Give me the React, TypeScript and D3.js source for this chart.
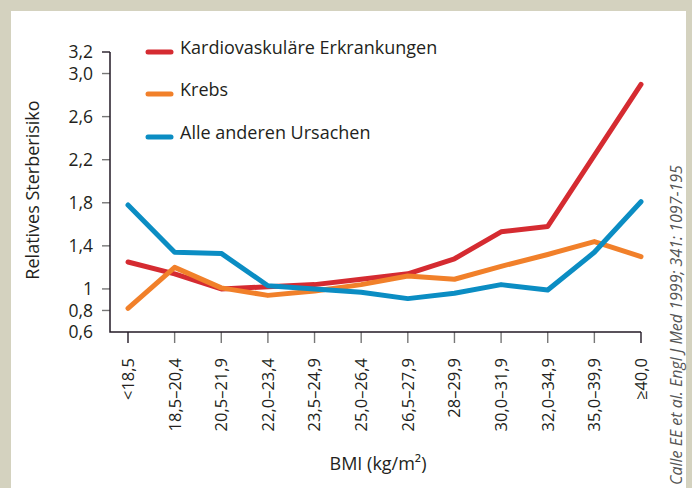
import React, { useEffect, useRef } from "react";
import * as d3 from "d3";

// Abmessungen
const WIDTH = 692;
const HEIGHT = 488;

// Daten
const categories: string[] = [
  "<18,5",
  "18,5–20,4",
  "20,5–21,9",
  "22,0–23,4",
  "23,5–24,9",
  "25,0–26,4",
  "26,5–27,9",
  "28–29,9",
  "30,0–31,9",
  "32,0–34,9",
  "35,0–39,9",
  "≥40,0",
];
const kardio: number[] = [1.25, 1.14, 1.0, 1.02, 1.04, 1.09, 1.14, 1.28, 1.53, 1.58, 2.24, 2.9];
const krebs: number[] = [0.82, 1.2, 1.01, 0.94, 0.98, 1.04, 1.12, 1.09, 1.21, 1.32, 1.44, 1.3];
const andere: number[] = [1.78, 1.34, 1.33, 1.03, 1.0, 0.97, 0.91, 0.96, 1.04, 0.99, 1.34, 1.81];

const seriesNames: string[] = ["Kardiovaskuläre Erkrankungen", "Krebs", "Alle anderen Ursachen"];
const seriesColors: string[] = ["#d52b31", "#f1802a", "#0b8dc3"];

const yTicks: number[] = [0.6, 0.8, 1, 1.4, 1.8, 2.2, 2.6, 3.0, 3.2];
const yTickLabels: string[] = ["0,6", "0,8", "1", "1,4", "1,8", "2,2", "2,6", "3,0", "3,2"];

const FONT = "'Open Sans', 'Noto Sans', sans-serif";

const App: React.FC = () => {
  const ref = useRef<SVGSVGElement | null>(null);

  useEffect(() => {
    if (!ref.current) return;
    const svg = d3.select(ref.current);
    svg.selectAll("*").remove();

    // Rahmen
    svg.append("rect").attr("width", WIDTH).attr("height", HEIGHT).attr("fill", "#d4d2bf");
    svg
      .append("rect")
      .attr("x", 11)
      .attr("y", 11)
      .attr("width", 675)
      .attr("height", HEIGHT - 11)
      .attr("fill", "#ffffff");

    // Skalen
    const x = d3.scalePoint<string>().domain(categories).range([128, 641]);
    const y = d3.scaleLinear().domain([0.6, 3.2]).range([332, 52]);
    const axisLeftX = 110;

    // Achsen
    const g = svg.append("g").attr("font-family", FONT).attr("fill", "#231f20");

    g.selectAll(".ytick")
      .data(yTicks.filter((t) => t > 0.6))
      .enter()
      .append("line")
      .attr("x1", axisLeftX - 8)
      .attr("x2", axisLeftX)
      .attr("y1", (d) => y(d))
      .attr("y2", (d) => y(d))
      .attr("stroke", (d) => (d === 3.2 ? "#231a26" : "#777"))
      .attr("stroke-width", 1.4);

    g.selectAll(".ylabel")
      .data(yTicks)
      .enter()
      .append("text")
      .attr("x", 93)
      .attr("y", (d) => y(d))
      .attr("dy", "0.36em")
      .attr("text-anchor", "end")
      .attr("font-size", 17.5)
      .attr("fill", "#231f20")
      .text((_, i) => yTickLabels[i]);

    g.selectAll(".xtick")
      .data(categories)
      .enter()
      .append("line")
      .attr("x1", (d) => x(d) || 0)
      .attr("x2", (d) => x(d) || 0)
      .attr("y1", y(0.6))
      .attr("y2", y(0.6) + 11)
      .attr("stroke", (_, i) => (i === 0 || i === categories.length - 1 ? "#231a26" : "#777"))
      .attr("stroke-width", 1.4);

    g.append("path")
      .attr("d", `M${axisLeftX},${y(3.2)}V${y(0.6)}H${x(categories[categories.length - 1])}`)
      .attr("fill", "none")
      .attr("stroke", "#231a26")
      .attr("stroke-width", 1.5);

    g.selectAll(".xlabel")
      .data(categories)
      .enter()
      .append("text")
      .attr("transform", (d) => `translate(${x(d)},358) rotate(-90)`)
      .attr("dy", "0.36em")
      .attr("text-anchor", "end")
      .attr("font-size", 16.5)
      .attr("fill", "#231f20")
      .text((d) => d);

    g.append("text")
      .attr("x", 378)
      .attr("y", 470)
      .attr("text-anchor", "middle")
      .attr("font-size", 18)
      .text("BMI (kg/m²)");

    g.append("text")
      .attr("transform", "translate(33,190) rotate(-90)")
      .attr("dy", "0.36em")
      .attr("text-anchor", "middle")
      .attr("font-size", 18)
      .text("Relatives Sterberisiko");

    // Quelle
    g.append("text")
      .attr("transform", "translate(676,485) rotate(-90)")
      .attr("dy", "0.36em")
      .attr("font-size", 16)
      .attr("font-style", "italic")
      .attr("fill", "#555")
      .text("Calle EE et al. Engl J Med 1999; 341: 1097-195");

    // Linien
    const allSeries = [kardio, krebs, andere];
    const line = d3
      .line<number>()
      .x((_, i) => x(categories[i]) || 0)
      .y((d) => y(d));

    svg
      .selectAll(".series")
      .data(allSeries)
      .enter()
      .append("path")
      .attr("d", (d) => line(d))
      .attr("fill", "none")
      .attr("stroke", (_, i) => seriesColors[i])
      .attr("stroke-width", 5)
      .attr("stroke-linecap", "round")
      .attr("stroke-linejoin", "round");

    // Legende
    const legendY = [52, 94, 137];
    const legend = svg
      .selectAll(".legend")
      .data(seriesNames)
      .enter()
      .append("g")
      .attr("transform", (_, i) => `translate(146,${legendY[i]})`);

    legend
      .append("line")
      .attr("x1", 2)
      .attr("x2", 25)
      .attr("stroke", (_, i) => seriesColors[i])
      .attr("stroke-width", 5)
      .attr("stroke-linecap", "round");

    legend
      .append("text")
      .attr("x", 34)
      .attr("y", 2)
      .attr("font-family", FONT)
      .attr("font-size", 18)
      .attr("fill", "#231f20")
      .text((d) => d);
  }, []);

  return (
    <svg
      ref={ref}
      width={WIDTH}
      height={HEIGHT}
      style={{ position: "absolute", left: 0, top: 0, display: "block" }}
    />
  );
};

export default App;
